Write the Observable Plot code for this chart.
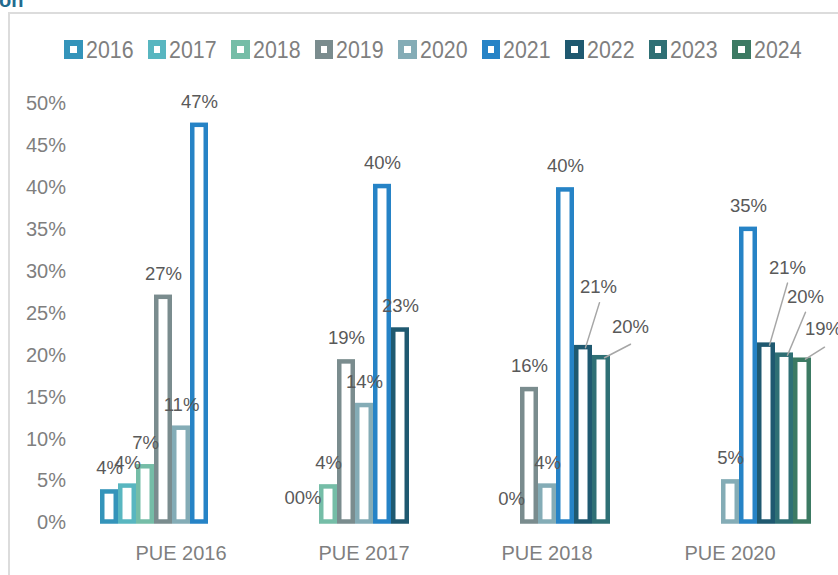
<!DOCTYPE html>
<html>
<head>
<meta charset="utf-8">
<script src="https://cdn.jsdelivr.net/npm/d3@7"></script>
<script src="https://cdn.jsdelivr.net/npm/@observablehq/plot@0.6"></script>
<style>
  html, body { margin: 0; padding: 0; background: #fff; }
  #wrap { position: relative; width: 838px; height: 575px; overflow: hidden; font-family: "Liberation Sans", Arial, sans-serif; }
  #frame { position: absolute; left: 8px; top: 12px; width: 900px; height: 700px; border-left: 2px solid #dcdcdc; border-top: 2px solid #dcdcdc; }
  #title { position: absolute; left: -1px; top: -10px; font-size: 20px; line-height: 1; font-weight: bold; color: #236b8e; }
  #legend { position: absolute; left: 64px; top: 40px; height: 19px; display: flex; align-items: center; gap: 14px; }
  .item { display: flex; align-items: center; gap: 3px; }
  .sw { width: 18.5px; height: 18.5px; box-sizing: border-box; border: 6px solid; background: #fff; }
  .lt { display: inline-block; width: 48px; font-size: 24px; line-height: 19px; color: #7f7f7f; transform: scaleX(0.89); transform-origin: left center; white-space: nowrap; }
  #chart { position: absolute; left: 0; top: 70px; }
</style>
</head>
<body>
<div id="wrap">
  <div id="frame"></div>
  <div id="title">on</div>
  <div id="legend"></div>
  <div id="chart"></div>
</div>
<script>
// ---- data ----
const categories = ["PUE 2016", "PUE 2017", "PUE 2018", "PUE 2020"];
const years = ["2016", "2017", "2018", "2019", "2020", "2021", "2022", "2023", "2024"];
const colors = ["#3494ba", "#58b6c0", "#75bda7", "#7a8c8e", "#84acb6", "#2683c6", "#1f5970", "#2f7075", "#3c7a63"];
// values per series, in category order (null = no bar)
const v2016 = [0.037, null, null, null];
const v2017 = [0.044, 0, null, null];
const v2018 = [0.067, 0.043, 0, null];
const v2019 = [0.269, 0.192, 0.159, null];
const v2020 = [0.113, 0.14, 0.044, 0.049];
const v2021 = [0.474, 0.401, 0.397, 0.35];
const v2022 = [null, 0.23, 0.209, 0.212];
const v2023 = [null, null, 0.197, 0.2];
const v2024 = [null, null, null, 0.194];
const series = [v2016, v2017, v2018, v2019, v2020, v2021, v2022, v2023, v2024];
const labelOverrides = { "PUE 2017|2017": "00%" };
const yTicks = [0, 0.05, 0.10, 0.15, 0.20, 0.25, 0.30, 0.35, 0.40, 0.45, 0.50];

// ---- table ----
const fmt = d3.format(".0%");
const rows = [];
series.forEach((vals, si) => {
  vals.forEach((v, ci) => {
    if (v == null) return;
    const key = categories[ci] + "|" + years[si];
    rows.push({ pue: categories[ci], year: years[si], value: v, label: labelOverrides[key] ?? fmt(v) });
  });
});

// label placement adjustments (pixels), for labels Excel moved with leader lines
const nudges = [
  { pue: "PUE 2017", year: "2017", tx: -7.5, ty: -24.5 },
  { pue: "PUE 2018", year: "2022", tx: 15, ty: -61, l: [2, 0, 16, -45] },
  { pue: "PUE 2018", year: "2023", tx: 29, ty: -30.5, l: [3, 0, 29, -13.5] },
  { pue: "PUE 2020", year: "2022", tx: 21, ty: -77, l: [3, 0, 21, -62] },
  { pue: "PUE 2020", year: "2023", tx: 21, ty: -58, l: [3, 0, 21, -43] },
  { pue: "PUE 2020", year: "2024", tx: 21, ty: -31, l: [3, -1, 22, -13] }
];
const isNudged = (d) => nudges.some(n => n.pue === d.pue && n.year === d.year);

// ---- legend ----
const legend = document.getElementById("legend");
years.forEach((y, i) => {
  const it = document.createElement("div");
  it.className = "item";
  const sw = document.createElement("span");
  sw.className = "sw";
  sw.style.borderColor = colors[i];
  const t = document.createElement("span");
  t.className = "lt";
  t.textContent = y;
  it.append(sw, t);
  legend.append(it);
});

// ---- marks ----
const lineShape = { draw(context, l) { context.moveTo(0, 0); context.lineTo(0, -l); } };
const labelFont = { fill: "#595959", fontSize: 18.5, fontFamily: "Liberation Sans, Arial, sans-serif" };

const marks = [
  Plot.barY(rows.filter(d => d.value > 0), {
    fx: "pue", x: "year", y: "value",
    fill: "white", stroke: "year", strokeWidth: 4.5,
    insetLeft: 2.25, insetRight: 2.25, insetBottom: 1
  }),
  Plot.text(rows.filter(d => !isNudged(d)), {
    fx: "pue", x: "year", y: "value", text: "label", dy: -23.5, ...labelFont
  })
];
nudges.forEach(n => {
  const sel = rows.filter(d => d.pue === n.pue && d.year === n.year);
  marks.push(Plot.text(sel, { fx: "pue", x: "year", y: "value", text: "label", dx: n.tx, dy: n.ty, ...labelFont }));
  if (n.l) {
    const [x1, y1, x2, y2] = n.l;
    const len = Math.hypot(x2 - x1, y2 - y1);
    const rot = Math.atan2(x2 - x1, -(y2 - y1)) * 180 / Math.PI;
    marks.push(Plot.vector(sel, {
      fx: "pue", x: "year", y: "value", length: len, rotate: rot, anchor: "start",
      shape: lineShape, stroke: "#a6a6a6", strokeWidth: 1.5, dx: x1, dy: y1
    }));
  }
});

const chart = Plot.plot({
  width: 838,
  height: 505,
  marginTop: 33,
  marginBottom: 52.5,
  marginLeft: 89,
  marginRight: 17,
  style: { fontFamily: "Liberation Sans, Arial, sans-serif", fontSize: "20px", color: "#7f7f7f", background: "transparent", overflow: "visible" },
  fx: { domain: categories, paddingInner: 0.09, paddingOuter: 0.045, label: null, axis: "bottom", tickSize: 0, tickPadding: 23 },
  x: { domain: years, padding: 0, axis: null },
  y: { domain: [0, 0.5], ticks: yTicks, tickFormat: ".0%", tickSize: 0, tickPadding: 31.5, label: null, grid: false },
  color: { domain: years, range: colors },
  length: { type: "identity" },
  marks
});
document.getElementById("chart").append(chart);
</script>
</body>
</html>
